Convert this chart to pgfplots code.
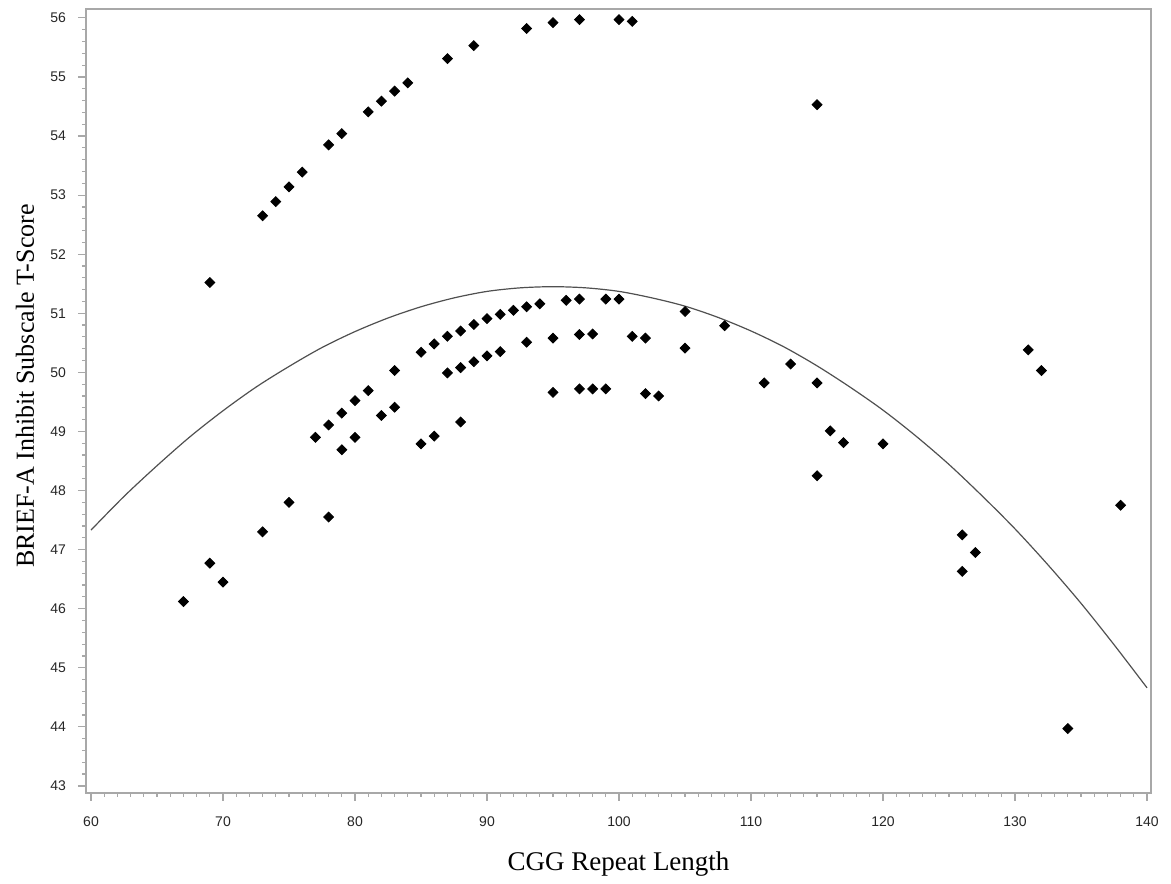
\documentclass[border=0pt]{standalone}
\usepackage{fontspec}
\setmainfont{Liberation Serif}
\newfontfamily\tickfont{Liberation Sans}
\usepackage{pgfplots}
\pgfplotsset{compat=1.18}
\definecolor{framegray}{HTML}{A8A8A8}
\definecolor{fitgray}{HTML}{505050}

\begin{document}
\begin{tikzpicture}
  \begin{axis}[
      scale only axis,
      width=532.5pt,
      height=392pt,
      xmin=59.62, xmax=140.3,
      ymin=42.88, ymax=56.15,
      xtick={60,70,...,140},
      ytick={43,44,...,56},
      minor x tick num=9,
      minor y tick num=4,
      tick align=outside,
      tick pos=left,
      major tick length=4pt,
      minor tick length=2pt,
      axis line style={framegray, line width=0.8pt},
      every tick/.style={framegray, line width=0.6pt},
      /pgf/number format/assume math mode=true,
      tick label style={font=\tickfont\fontsize{7}{8}\selectfont, text=black!85},
      xticklabel style={yshift=-4.5pt},
      yticklabel style={xshift=-2.5pt},
      xlabel={CGG Repeat Length},
      ylabel={BRIEF-A Inhibit Subscale T-Score},
      xlabel style={font=\fontsize{13.5}{15}\selectfont,
        at={(axis description cs:0.5,0)}, anchor=base, yshift=-39pt},
      ylabel style={font=\fontsize{13}{15}\selectfont,
        at={(axis description cs:0,0.519)}, anchor=center, yshift=30.5pt},
      clip=false,
    ]
    % quadratic fit line
    \addplot[fitgray, line width=0.6pt, smooth, no markers] coordinates {
        (60,47.33) (62.5,47.90) (65,48.42) (67.5,48.91) (70,49.35)
        (72.5,49.75) (75,50.10) (77.5,50.42) (80,50.69) (82.5,50.92)
        (85,51.11) (87.5,51.26) (90,51.37) (92.5,51.43) (95,51.45)
        (97.5,51.43) (100,51.37) (102.5,51.26) (105,51.12) (107.5,50.93)
        (110,50.70) (112.5,50.43) (115,50.11) (117.5,49.75) (120,49.36)
        (122.5,48.92) (125,48.44) (127.5,47.91) (130,47.35) (132.5,46.74)
        (135,46.09) (137.5,45.39) (140,44.66)
      };
    % observed scores
    \addplot[only marks, mark=square*, mark size=1.75pt, black,
      mark options={rotate=45}] coordinates {
        (69,51.52) (73,52.65) (74,52.89) (75,53.14) (76,53.39) (78,53.85)
        (79,54.04) (81,54.41) (82,54.59) (83,54.76) (84,54.90) (87,55.31)
        (89,55.53) (93,55.82) (95,55.92) (97,55.97) (100,55.97) (101,55.94)
        (115,54.53)
        (77,48.90) (78,49.11) (79,49.31) (80,49.52) (81,49.69) (83,50.03)
        (85,50.34) (86,50.48) (87,50.61) (88,50.70) (89,50.81) (90,50.91)
        (91,50.98) (92,51.05) (93,51.11) (94,51.16) (96,51.22) (97,51.24)
        (99,51.24) (100,51.24) (105,51.03) (108,50.79) (113,50.14)
        (79,48.69) (80,48.90) (82,49.27) (83,49.41) (87,49.99) (88,50.08)
        (89,50.18) (90,50.28) (91,50.35) (93,50.51) (95,50.58) (97,50.64)
        (98,50.65) (101,50.61) (102,50.58) (105,50.41)
        (95,49.66) (97,49.72) (98,49.72) (99,49.72) (102,49.64) (103,49.60)
        (111,49.82) (115,49.82)
        (85,48.79) (86,48.92) (88,49.16)
        (67,46.12) (69,46.77) (70,46.45) (73,47.30) (75,47.80) (78,47.55)
        (115,48.25) (116,49.01) (117,48.81) (120,48.79)
        (126,47.25) (127,46.95) (126,46.63)
        (131,50.38) (132,50.03) (138,47.75) (134,43.97)
      };
  \end{axis}
  \path ([shift={(-43pt,-44.5pt)}]current axis.south west)
    rectangle ([shift={(10pt,4.5pt)}]current axis.north east);
\end{tikzpicture}
\end{document}
